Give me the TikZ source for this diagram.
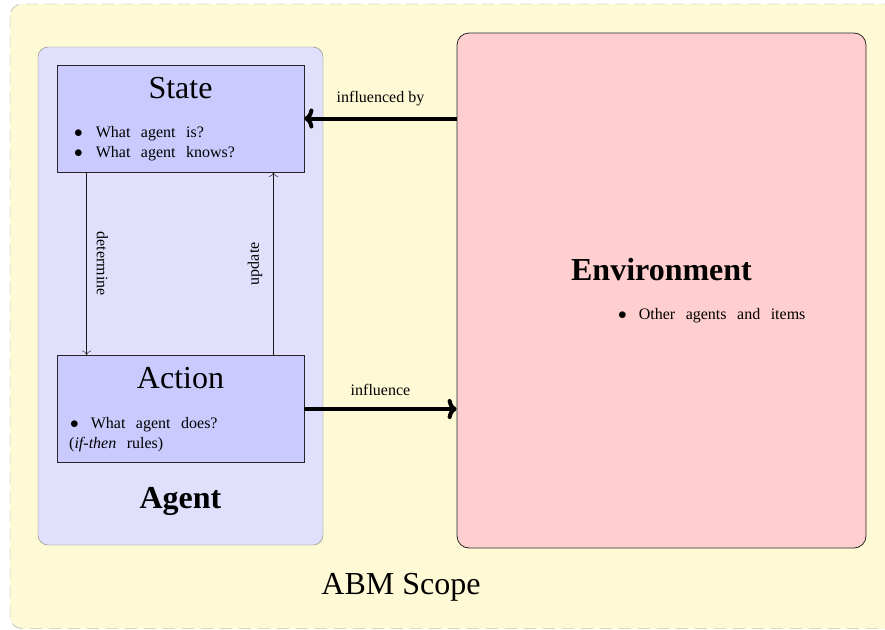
\documentclass[tikz,border=0pt]{standalone}
\usepackage{fontspec}
\setmainfont{Liberation Serif}
\usepackage{tikz}
\usetikzlibrary{arrows,arrows.meta,positioning,calc}

\definecolor{scopefill}{RGB}{255,250,214}
\definecolor{agentfill}{RGB}{224,224,252}
\definecolor{partfill}{RGB}{202,202,255}
\definecolor{envfill}{RGB}{255,206,206}
\newcommand{\widesp}{\spaceskip=10.5pt\relax}
\newcommand{\bigdot}{{\fontsize{19}{20}\selectfont$\bullet$}}

\begin{document}
\begin{tikzpicture}[x=1pt,y=-1pt,
   part/.style={rectangle,draw=black!85,fill=partfill,thick,inner sep=0pt,minimum width=247pt,minimum height=107pt},
   title/.style={font=\fontsize{32}{38}\selectfont,anchor=base,inner sep=0pt},
   btitle/.style={font=\fontsize{32}{38}\selectfont\bfseries,anchor=base,inner sep=0pt},
   item/.style={font=\fontsize{16}{20}\selectfont,execute at begin node=\widesp,anchor=base west,inner sep=0pt},
   lbl/.style={font=\fontsize{16}{20}\selectfont,inner sep=2pt},
   thin link/.style={draw=black!90,-{To[length=4.5pt,width=9pt]}},
   thick link/.style={draw=black,line width=4pt,-{To[length=9pt,width=20pt]}}]
   \useasboundingbox (0,0) rectangle (885,629);
   % scope frame
   \draw[dashed,dash pattern=on 12pt off 7pt,draw=black!40,fill=scopefill,rounded corners=12pt]
        (10,4) rectangle (905,628.5);
   \node (scope) at (401,594) [title] {ABM Scope};
   % agent
   \node (agent) at (180.5,296) [rectangle,rounded corners=10pt,draw=black!50,fill=agentfill,
        minimum width=285pt,minimum height=498pt,inner sep=0pt] {};
   \node (agentname) at (180.5,508) [btitle] {Agent};
   \node (state) at (180.5,118.5) [part] {};
   \node (action) at (180.5,409) [part] {};
   \node (statename) at (180.5,98) [title] {State};
   \node (is) at (74,137) [item] {\bigdot\hspace{13pt}What agent is?};
   \node (knows) at (74,157) [item] {\bigdot\hspace{13pt}What agent knows?};
   \node (actionname) at (180.5,388) [title] {Action};
   \node (does) at (70,428) [item] {\bigdot\hspace{12pt}What agent does?};
   \node (rules) at (69,448) [item] {(\textit{if-then} rules)};
   % environment
   \node (env) at (661.5,290.5) [rectangle,rounded corners=12pt,draw=black!85,fill=envfill,thick,
        minimum width=409pt,minimum height=515pt,inner sep=0pt] {};
   \node (envname) at (661.5,280) [btitle] {Environment};
   \node (others) at (618,319) [item] {\bigdot\hspace{12pt}Other agents and items};
   % links
   \draw[thin link] ($(state.south west)+(30,0)$) -- node[lbl,midway,above=8pt,sloped] {determine} ($(action.north west)+(30,0)$);
   \draw[thin link] ($(action.north east)+(-31,0)$) -- node[lbl,midway,above=9pt,sloped] {update} ($(state.south east)+(-31,0)$);
   \draw[thick link] (env.west |- state.east) -- node[lbl,above=9pt] {influenced by} (state.east);
   \draw[thick link] (action.east) -- node[lbl,above=9pt] {influence} (env.west |- action.east);
\end{tikzpicture}
\end{document}
